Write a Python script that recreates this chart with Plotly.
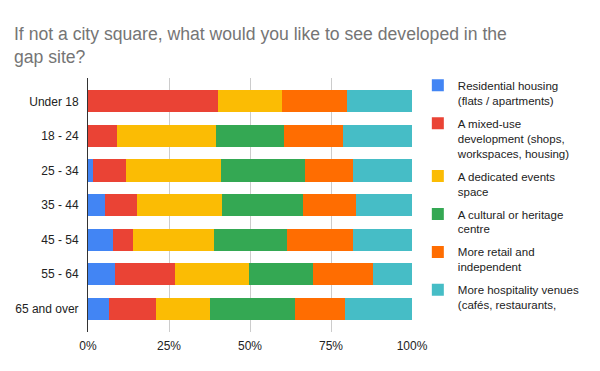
import plotly.graph_objects as go

categories = ["Under 18", "18 - 24", "25 - 34", "35 - 44", "45 - 54", "55 - 64", "65 and over"]

series_names = [
    "Residential housing<br>(flats / apartments)",
    "A mixed-use<br>development (shops,<br>workspaces, housing)",
    "A dedicated events<br>space",
    "A cultural or heritage<br>centre",
    "More retail and<br>independent",
    "More hospitality venues<br>(cafés, restaurants,",
]

residential = [0, 0, 1.6, 5.1, 7.8, 8.2, 6.6]
mixed_use = [40.0, 9.1, 10.0, 9.9, 6.0, 18.5, 14.3]
events = [20.0, 30.3, 29.3, 26.3, 25.0, 22.9, 16.7]
cultural = [0, 21.2, 26.2, 25.0, 22.5, 19.9, 26.2]
retail = [20.0, 18.2, 14.8, 16.3, 20.6, 18.6, 15.4]
hospitality = [20.0, 21.2, 18.1, 17.4, 18.1, 11.9, 20.8]

colors = ["#4285F4", "#EA4335", "#FBBC04", "#34A853", "#FF6D01", "#46BDC6"]

x_tickvals = [0, 25, 50, 75, 100]
x_ticktext = ["0%", "25%", "50%", "75%", "100%"]

all_series = [residential, mixed_use, events, cultural, retail, hospitality]

fig = go.Figure()
for i, (name, vals, col) in enumerate(zip(series_names, all_series, colors)):
    fig.add_trace(go.Bar(
        y=categories, x=vals, name=name, orientation="h",
        legendgroup=f"g{i}",
        marker=dict(color=col, line=dict(width=0)),
    ))

fig.update_layout(
    width=600, height=371,
    barmode="stack", barnorm="percent", bargap=0.362,
    paper_bgcolor="white", plot_bgcolor="white",
    font=dict(family="Arial, Liberation Sans, sans-serif", size=12, color="#222222"),
    title=dict(
        text="If not a city square, what would you like to see developed in the<br>gap site?",
        x=0.0233, xanchor="left", y=0.893, yanchor="top",
        pad=dict(l=0, r=0, t=0, b=0),
        font=dict(size=17.6, color="#757575"),
    ),
    margin=dict(l=88, r=188, t=78, b=39, autoexpand=False),
    legend=dict(
        x=1.018, xanchor="left", y=1.026, yanchor="top",
        traceorder="grouped", tracegroupgap=5, valign="top",
        font=dict(size=11.5, color="#222222"),
        bgcolor="rgba(0,0,0,0)",
        maxheight=1,
    ),
    xaxis=dict(
        range=[0, 100], tickvals=x_tickvals, ticktext=x_ticktext,
        showgrid=True, gridcolor="#cccccc", gridwidth=1,
        zeroline=False, showline=False, ticks="",
        tickfont=dict(size=12, color="#222222"),
        ticklabelstandoff=5, automargin=False,
    ),
    yaxis=dict(
        range=[6.68, -0.68], showgrid=False, showline=True,
        linecolor="#333333", linewidth=1, ticks="",
        tickfont=dict(size=12, color="#222222"),
        ticklabelstandoff=6, automargin=False,
    ),
)

fig.write_html("out.html", config={"displayModeBar": False},
               post_script="document.body.style.margin='0';")
